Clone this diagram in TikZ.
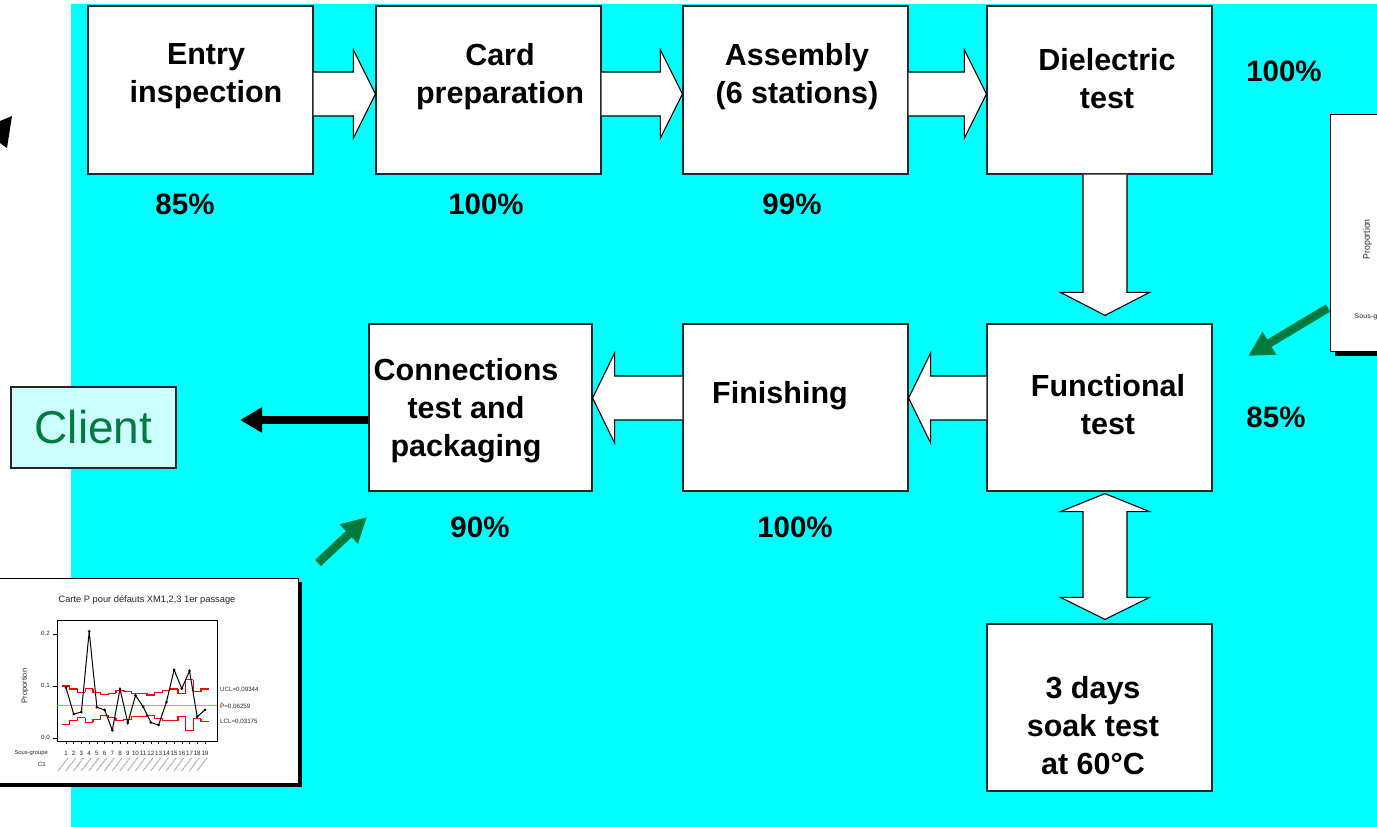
\documentclass[tikz,border=0pt]{standalone}
\usepackage{fontspec}
\setmainfont{Liberation Sans}
\usetikzlibrary{calc,arrows.meta}

\definecolor{bgcyan}{RGB}{0,255,255}
\definecolor{clientfill}{RGB}{204,255,255}
\definecolor{flowgreen}{RGB}{0,122,61}
\definecolor{centregreen}{RGB}{80,230,80}
\definecolor{limitred}{RGB}{255,0,0}

% frame of a P control chart and its left-hand captions (local coordinates)
\newcommand\pchartframe{%
  \fill[black] (4,4) rectangle (307,209);
  \draw[black, line width=1pt, fill=white] (0,0) rectangle (303,205);
  \node[charttxt, rotate=90, font=\fontsize{7.5}{9}\selectfont] at (30,108) {Proportion};
  \node[charttxt, anchor=east, font=\fontsize{5.8}{7}\selectfont] at (53,175) {Sous-groupe};
  \node[charttxt, anchor=east] at (51,186) {C1};
}

% complete P control chart
\newcommand\pchart{%
  \pchartframe
  \node[charttxt, font=\fontsize{9.3}{11}\selectfont] (ctitle) at (152,22) {Carte P pour défauts XM1,2,3 1er passage};
  % axes frame and ticks
  \draw[line width=0.8pt] (62,42) rectangle (222,163);
  \foreach \val/\t in {0/0,0.1/1,0.2/2}{
    \draw[line width=0.6pt] (62,{160-520*\val}) -- (58,{160-520*\val});
    \node[charttxt, anchor=east] at (55,{160-520*\val}) {0,\t};
  }
  \foreach \i in {1,...,19}{
    \draw[line width=0.6pt] ({71+(\i-1)*7.72},163) -- ({71+(\i-1)*7.72},166);
    \node[charttxt] at ({71+(\i-1)*7.72},175) {\i};
    \draw[gray!70, line width=1.1pt, dash pattern=on 1.2pt off 0.6pt]
      ({73+(\i-1)*7.72},180) -- ({63+(\i-1)*7.72},193);
  }
  % centre line
  \draw[centregreen, line width=1.3pt] (62,127.4) -- (222,127.4);
  % upper and lower control limits, one step per subgroup
  \foreach \lim [count=\i, remember=\lim as \prevlim (initially 0.100)] in
    {0.100,0.094,0.088,0.095,0.088,0.084,0.086,0.092,0.089,0.086,0.086,0.083,0.088,0.092,0.094,0.086,0.112,0.089,0.094}{
    \draw[limitred, line width=1.3pt] ({67.1+(\i-1)*7.72},{160-520*\prevlim}) -- ({67.1+(\i-1)*7.72},{160-520*\lim}) -- ({74.9+(\i-1)*7.72},{160-520*\lim});
  }
  \foreach \lim [count=\i, remember=\lim as \prevlim (initially 0.026)] in
    {0.026,0.034,0.039,0.030,0.036,0.043,0.039,0.034,0.036,0.041,0.041,0.043,0.037,0.034,0.033,0.041,0.014,0.037,0.032}{
    \draw[limitred, line width=1.3pt] ({67.1+(\i-1)*7.72},{160-520*\prevlim}) -- ({67.1+(\i-1)*7.72},{160-520*\lim}) -- ({74.9+(\i-1)*7.72},{160-520*\lim});
  }
  % subgroup proportions
  \draw[black, line width=1pt] plot coordinates {(71,109.6) (78.7,136.1) (86.4,134) (94.2,53.4) (101.9,129.3)
    (109.6,131.9) (117.3,152.2) (125,111.1) (132.8,144.9) (140.5,117.4) (148.2,128.8) (155.9,144.4)
    (163.6,147) (171.4,124.1) (179.1,91.9) (186.8,110.6) (194.5,92.9) (202.2,138.7) (210,131.9)};
  \foreach \px/\py in {71/109.6,78.7/136.1,86.4/134,94.2/53.4,101.9/129.3,109.6/131.9,117.3/152.2,
    125/111.1,132.8/144.9,140.5/117.4,148.2/128.8,155.9/144.4,163.6/147,171.4/124.1,179.1/91.9,
    186.8/110.6,194.5/92.9,202.2/138.7,210/131.9}{
    \fill[black] (\px,\py) circle (1.5);
  }
  \node[charttxt, anchor=west] at (225,112) {UCL=0,09344};
  \node[charttxt, anchor=west] at (225,128) {\makebox[0pt][l]{\hspace{0.08em}\raisebox{0.72em}{\scalebox{0.7}[0.6]{=}}}P=0,06259};
  \node[charttxt, anchor=west] at (225,144) {LCL=0,03175};
}

% block arrows between steps
\newcommand\flowright[3]{%
  \path[blockarrow] ($(#1.east)+(0,#3-22)$) -- ($(#2.west)+(-22,#3-22)$)
    -- ($(#2.west)+(-22,#3-44)$) -- ($(#2.west)+(0,#3)$) -- ($(#2.west)+(-22,#3+44)$)
    -- ($(#2.west)+(-22,#3+22)$) -- ($(#1.east)+(0,#3+22)$);}
\newcommand\flowleft[3]{%
  \path[blockarrow] ($(#1.west)+(0,#3-22)$) -- ($(#2.east)+(22,#3-22)$)
    -- ($(#2.east)+(22,#3-45)$) -- ($(#2.east)+(0,#3)$) -- ($(#2.east)+(22,#3+45)$)
    -- ($(#2.east)+(22,#3+22)$) -- ($(#1.west)+(0,#3+22)$);}

\begin{document}
\begin{tikzpicture}[x=1pt, y=-1pt,
  box/.style={draw=black!85, line width=1.2pt, fill=white, minimum width=225pt,
    minimum height=168pt, inner sep=0pt},
  boxtext/.style={font=\fontsize{30.5}{38}\selectfont\bfseries, align=center, inner sep=0pt},
  pct/.style={font=\fontsize{29.5}{34}\selectfont\bfseries, inner sep=0pt},
  blockarrow/.style={fill=white, draw=black, line width=1.1pt, line join=miter},
  greenarrow/.style={draw=flowgreen, line width=8.5pt, -{Triangle[length=25pt,width=25pt]}},
  charttxt/.style={font=\fontsize{6.2}{7.5}\selectfont, inner sep=0pt, text=black!85}]

\useasboundingbox (0,0) rectangle (1377,827);
\clip (0,0) rectangle (1377,827);

% background panel
\fill[bgcyan] (71,4) rectangle (1377,827);

% process steps
\node[box] (entry) at (200.5,90) {};
\node[box] (card)  at (488.5,90) {};
\node[box] (assy)  at (795.5,90) {};
\node[box] (diel)  at (1099.5,90) {};
\node[box, minimum height=167pt] (func) at (1099.5,407.5) {};
\node[box, minimum height=167pt] (fin)  at (795.5,407.5) {};
\node[box, minimum height=167pt, minimum width=223pt] (conn) at (480.5,407.5) {};
\node[box, minimum height=167pt] (soak) at (1099.5,707.5) {};

\node[boxtext] (entry-t) at (206,76.4) {Entry\\inspection};
\node[boxtext] (card-t)  at (500,76.4) {Card\\preparation};
\node[boxtext] (assy-t)  at (797,76.4) {Assembly\\(6 stations)};
\node[boxtext] (diel-t)  at (1107,78.3) {Dielectric\\test};
\node[boxtext] (func-t)  at (1108,405) {Functional\\test};
\node[boxtext] (fin-t)   at (780,395.4) {Finishing};
\node[boxtext] (conn-t)  at (466,410.9) {Connections\\test and\\packaging};
\node[boxtext] (soak-t)  at (1093,726) {3 days\\soak test\\at 60°C};

% yields
\node[pct] (p-entry) at (185,204) {85\%};
\node[pct] (p-card)  at (486,204) {100\%};
\node[pct] (p-assy)  at (792,204) {99\%};
\node[pct] (p-diel)  at (1284,71.5) {100\%};
\node[pct] (p-func)  at (1276,417) {85\%};
\node[pct] (p-conn)  at (480,527) {90\%};
\node[pct] (p-fin)   at (795,527) {100\%};

\flowright{entry}{card}{4}
\flowright{card}{assy}{4}
\flowright{assy}{diel}{4}
\flowleft{func}{fin}{-9.5}
\flowleft{fin}{conn}{-9.5}

% dielectric -> functional
\path[blockarrow] ($(diel.south)+(-16.5,0)$) -- ($(func.north)+(-16.5,-31)$)
  -- ($(func.north)+(-39,-31)$) -- ($(func.north)+(5.5,-8)$) -- ($(func.north)+(50,-31)$)
  -- ($(func.north)+(27.5,-31)$) -- ($(diel.south)+(27.5,0)$);

% functional <-> soak test
\path[blockarrow] ($(func.south)+(5.5,2)$) -- ($(func.south)+(50,20)$) -- ($(func.south)+(27.5,20)$)
  -- ($(soak.north)+(27.5,-26)$) -- ($(soak.north)+(50,-26)$) -- ($(soak.north)+(5.5,-4)$)
  -- ($(soak.north)+(-39,-26)$) -- ($(soak.north)+(-16.5,-26)$) -- ($(func.south)+(-16.5,20)$)
  -- ($(func.south)+(-39,20)$) -- cycle;

% delivery to the client
\node[draw=black!85, line width=1.5pt, fill=clientfill, minimum width=165pt, minimum height=81pt,
  inner sep=0pt, text=flowgreen, font=\fontsize{46}{50}\selectfont] (client) at (93.5,427.5) {Client};
\coordinate (client-in) at (240,420);
\draw[line width=8pt, -{Triangle[length=22pt,width=24pt]}] ($(conn.west)+(0,12.5)$) -- (client-in);

% arrowhead entering from the left
\fill[black] (0,121) -- (12,116) -- (7,148) -- (0,143) -- cycle;

% control charts
\begin{scope}[shift={(-5,578)}]
  \pchart
\end{scope}
\begin{scope}[shift={(1330,114)}, xscale=1.25, yscale=1.16, transform shape]
  \pchartframe
\end{scope}

% chart callouts
\coordinate (chartA-tail) at (318,563);
\coordinate (chartA-tip) at (367,517);
\coordinate (chartB-tail) at (1328,308);
\coordinate (chartB-tip) at (1248,356);
\draw[greenarrow] (chartA-tail) -- (chartA-tip);
\draw[greenarrow] (chartB-tail) -- (chartB-tip);
\end{tikzpicture}
\end{document}
